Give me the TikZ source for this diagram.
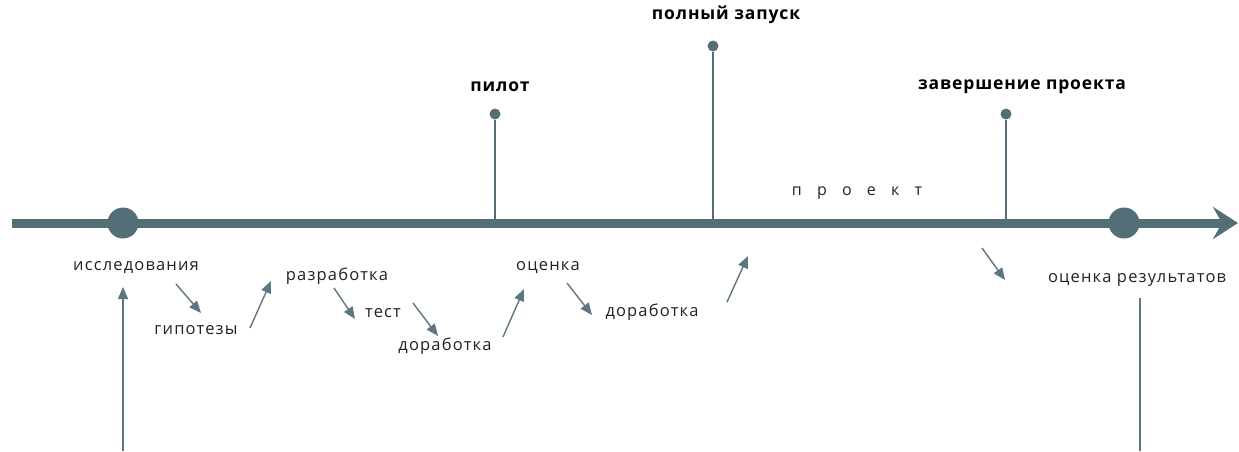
\documentclass[tikz,border=0pt]{standalone}
\usepackage{fontspec}
\setmainfont{Open Sans}
\usetikzlibrary{arrows.meta}
\definecolor{slate}{HTML}{546E78}
\definecolor{arr}{HTML}{5E7682}
\definecolor{txt}{HTML}{222222}
\tikzset{
  lbl/.style={text=txt,font=\fontsize{16.5}{18}\selectfont\addfontfeature{LetterSpace=7},inner sep=0pt},
  blbl/.style={text=black,font=\fontsize{17.5}{19}\selectfont\bfseries\addfontfeature{LetterSpace=5},inner sep=0pt},
  flow/.style={draw=arr,line width=1.4pt,-{Triangle[length=12pt,width=10pt]}},
  pin/.style={draw=slate,line width=1.6pt},
  pindot/.style={circle,fill=slate,minimum size=11pt,inner sep=0pt},
  bigdot/.style={circle,fill=slate,minimum size=31pt,inner sep=0pt},
}
\begin{document}
\begin{tikzpicture}[x=1pt,y=-1pt]
\useasboundingbox (0,0) rectangle (1239,451);
% main axis
\coordinate (axs) at (12,223);
\coordinate (axe) at (1238,223);
\draw[slate,line width=9pt,-{Stealth[length=25pt,width=32pt,inset=9pt]}] (axs) -- (axe);
\node[bigdot] (d1) at (123,223) {};
\node[bigdot] (d2) at (1124,223) {};
\node[text=txt,inner sep=0pt,font=\fontsize{16}{18}\selectfont\addfontfeature{LetterSpace=95}] (proj) at (857,193) {проект};
% pins
\node[pindot] (p1) at (495,114) {};
\coordinate (p1b) at (495,223);
\draw[pin] (p1) -- (p1b);
\node[blbl] (l1) at (500,87) {пилот};
\node[pindot] (p2) at (713,46) {};
\coordinate (p2b) at (713,223);
\draw[pin] (p2) -- (p2b);
\node[blbl] (l2) at (726,15) {полный запуск};
\node[pindot] (p3) at (1006,114) {};
\coordinate (p3b) at (1006,223);
\draw[pin] (p3) -- (p3b);
\node[blbl] (l3) at (1022,87) {завершение проекта};
% labels
\node[lbl] (n1) at (136,268) {исследования};
\node[lbl] (n2) at (196,330) {гипотезы};
\node[lbl] (n3) at (337,276) {разработка};
\node[lbl] (n4) at (383,313) {тест};
\node[lbl] (n5) at (445,346) {доработка};
\node[lbl] (n6) at (548,268) {оценка};
\node[lbl] (n7) at (652,312) {доработка};
\node[lbl] (n8) at (1137,280) {оценка результатов};
% flow arrows
\coordinate (a1s) at (176,284); \coordinate (a1e) at (201,313);
\coordinate (a2s) at (250,328); \coordinate (a2e) at (271,281);
\coordinate (a3s) at (334,288); \coordinate (a3e) at (355,319);
\coordinate (a4s) at (413,303); \coordinate (a4e) at (438,336);
\coordinate (a5s) at (503,337); \coordinate (a5e) at (524,289);
\coordinate (a6s) at (567,283); \coordinate (a6e) at (592,315);
\coordinate (a7s) at (727,302); \coordinate (a7e) at (748,256);
\coordinate (a8s) at (982,248); \coordinate (a8e) at (1005,280);
\foreach \i in {1,...,8}{\draw[flow] (a\i s) -- (a\i e);}
% verticals
\coordinate (v1s) at (123,451); \coordinate (v1e) at (123,287);
\draw[flow] (v1s) -- (v1e);
\coordinate (v2s) at (1140,298); \coordinate (v2e) at (1140,451);
\draw[draw=arr,line width=1.4pt] (v2s) -- (v2e);
\end{tikzpicture}
\end{document}
